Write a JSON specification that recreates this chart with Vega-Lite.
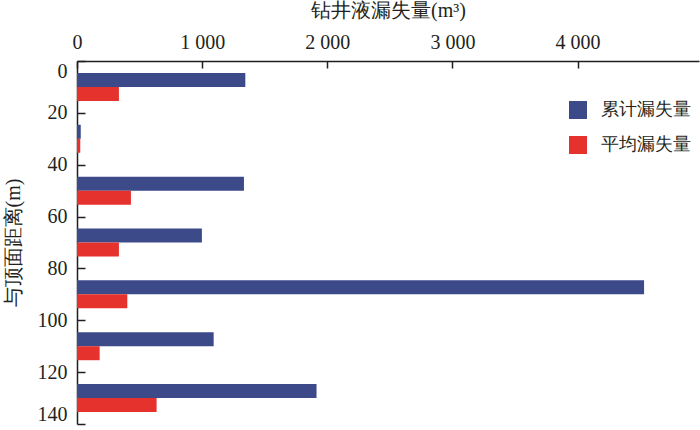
{
  "$schema": "https://vega.github.io/schema/vega-lite/v6.json",
  "autosize": {"type": "none"},
  "width": 622,
  "height": 363,
  "padding": {"left": 77, "top": 61, "right": 1, "bottom": 6},
  "background": "white",
  "config": {
    "view": {"stroke": null},
    "font": "Liberation Serif"
  },
  "data": {
    "values": [
      {"top": 4.6, "bottom": 10, "series": "累计漏失量", "value": 1345},
      {"top": 10, "bottom": 15.4, "series": "平均漏失量", "value": 335},
      {"top": 24.6, "bottom": 30, "series": "累计漏失量", "value": 30},
      {"top": 30, "bottom": 35.4, "series": "平均漏失量", "value": 26},
      {"top": 44.6, "bottom": 50, "series": "累计漏失量", "value": 1334},
      {"top": 50, "bottom": 55.4, "series": "平均漏失量", "value": 431},
      {"top": 64.6, "bottom": 70, "series": "累计漏失量", "value": 998},
      {"top": 70, "bottom": 75.4, "series": "平均漏失量", "value": 335},
      {"top": 84.6, "bottom": 90, "series": "累计漏失量", "value": 4531},
      {"top": 90, "bottom": 95.4, "series": "平均漏失量", "value": 402},
      {"top": 104.6, "bottom": 110, "series": "累计漏失量", "value": 1092},
      {"top": 110, "bottom": 115.4, "series": "平均漏失量", "value": 181},
      {"top": 124.6, "bottom": 130, "series": "累计漏失量", "value": 1914},
      {"top": 130, "bottom": 135.4, "series": "平均漏失量", "value": 636}
    ]
  },
  "mark": {"type": "bar"},
  "encoding": {
    "x": {
      "field": "value",
      "type": "quantitative",
      "scale": {"domain": [0, 4970], "nice": false, "zero": true},
      "axis": {
        "orient": "top",
        "title": "钻井液漏失量(m³)",
        "titlePadding": 12,
        "titleFontSize": 20,
        "titleFontWeight": "normal",
        "titleColor": "#231f20",
        "values": [0, 1000, 2000, 3000, 4000],
        "labelExpr": "replace(format(datum.value, ',d'), ',', ' ')",
        "labelFontSize": 20,
        "labelColor": "#231f20",
        "domain": true,
        "domainColor": "#231f20",
        "domainWidth": 1.5,
        "ticks": true,
        "tickColor": "#231f20",
        "tickWidth": 1.5,
        "tickSize": -7,
        "labelPadding": 16,
        "labelFlush": false,
        "grid": false
      }
    },
    "x2": {"datum": 0},
    "y": {
      "field": "top",
      "type": "quantitative",
      "scale": {"domain": [0, 140], "reverse": true, "nice": false},
      "axis": {
        "title": "与顶面距离(m)",
        "titlePadding": 14,
        "titleFontSize": 20,
        "titleFontWeight": "normal",
        "titleColor": "#231f20",
        "values": [0, 20, 40, 60, 80, 100, 120, 140],
        "labelFontSize": 20,
        "labelColor": "#231f20",
        "domain": true,
        "domainColor": "#231f20",
        "domainWidth": 1.5,
        "ticks": true,
        "tickColor": "#231f20",
        "tickWidth": 1.5,
        "tickSize": -8,
        "labelPadding": 18,
        "labelFlush": true,
        "grid": false
      }
    },
    "y2": {"field": "bottom"},
    "color": {
      "field": "series",
      "type": "nominal",
      "scale": {"domain": ["累计漏失量", "平均漏失量"], "range": ["#3c4a8a", "#e5322d"]},
      "legend": {
        "title": null,
        "orient": "none",
        "legendX": 492,
        "legendY": 40,
        "symbolType": "square",
        "symbolSize": 324,
        "symbolStrokeWidth": 0,
        "symbolOpacity": 1,
        "labelFontSize": 18,
        "labelColor": "#231f20",
        "labelOffset": 14,
        "rowPadding": 17
      }
    }
  }
}
